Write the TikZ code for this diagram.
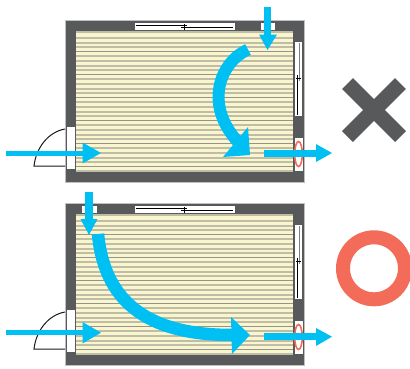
\documentclass[tikz,border=0pt]{standalone}
\definecolor{wallc}{HTML}{58595B}
\definecolor{floorc}{HTML}{F9F6CF}
\definecolor{stripec}{HTML}{BFBDA6}
\definecolor{stripedark}{HTML}{94948C}
\definecolor{flowc}{HTML}{00BFF3}
\definecolor{redc}{HTML}{F36C5A}
\tikzset{
  wall/.style={fill=wallc,draw=black!25,line width=.6pt},
  opening/.style={fill=white,draw=none},
  sash/.style={draw=black,line width=.9pt},
  sashgrey/.style={draw=black!50,line width=.9pt},
  doorline/.style={draw=black!90,line width=1pt},
  flowhead/.style={fill=flowc,draw=none},
  flowline/.style={draw=flowc,line cap=butt},
  seal/.style={draw=redc,line width=1.6pt,fill=none}
}
\newcommand{\roomplan}[2]{%
  \begin{scope}[yshift=-#1pt]
    \fill[wall] (65,20.5) rectangle (304,182);
    \fill[floorc] (76,31) rectangle (293,171);
    \fill[stripec] (76,31) rectangle (293,33.2);
    \foreach \k in {0,...,29} {
      \pgfmathsetmacro{\yy}{36.9+4.6*\k}
      \pgfmathtruncatemacro{\rr}{mod(\k,5)}
      \ifnum\rr=3
        \fill[stripedark] (76,\yy) rectangle (293,\yy+1.5);
      \else
        \fill[stripec] (76,\yy) rectangle (293,\yy+2);
      \fi
    }
    \fill[stripec] (76,169.5) rectangle (293,171);
    % top window
    \fill[opening] (134.5,22.5) rectangle (234.5,30);
    \draw[sash] (136,25.7) -- (187,25.7);
    \draw[sash] (181,27.2) -- (233,27.2);
    \draw[sash] (184,23.8) -- (184,29.6);
    % vent
    \fill[opening] (#2,22.5) rectangle ({#2+14.5},30);
    % right window
    \fill[opening] (295,42) rectangle (302,116);
    \draw[sashgrey] (299.3,43) -- (299.3,81);
    \draw[sash] (297.2,75) -- (297.2,115);
    \draw[sash] (295.8,78.5) -- (301,78.5);
    % exhaust opening
    \fill[opening] (295,137.5) rectangle (302.5,171);
    \draw[seal] (298.5,154) ellipse [x radius=3.8,y radius=12.5];
    % door
    \fill[opening] (67,127) rectangle (75,169);
    \draw[doorline] (65,129) .. controls (48,132) and (36,148) .. (34,166) -- (65,166);
  \end{scope}}
\begin{document}
\begin{tikzpicture}[x=1pt,y=-1pt]
\useasboundingbox (0,0) rectangle (410,368);
\roomplan{0}{260.5}
\roomplan{183}{82}
% upper room flows
\draw[flowline,line width=5pt] (6,153) -- (84,153);
\fill[flowhead] (82.5,142.5) -- (101,153) -- (82.5,163.5) -- cycle;
\draw[flowline,line width=7pt] (264,153) -- (317,153);
\fill[flowhead] (316,144) -- (332,153) -- (316,162) -- cycle;
\draw[flowline,line width=7.5pt] (267.5,7) -- (267.5,35);
\fill[flowhead] (259,34.5) -- (277,34.5) -- (267.5,50) -- cycle;
\draw[flowline,line width=12pt] (248,49.5) .. controls (220,62) and (203,105) .. (239,143);
\fill[flowhead] (223,157) -- (248,127) -- (250,155) -- cycle;
% lower room flows
\draw[flowline,line width=5pt] (6,332.7) -- (84,332.7);
\fill[flowhead] (82.5,322) -- (101,332.7) -- (82.5,343.5) -- cycle;
\draw[flowline,line width=7.5pt] (264,336.7) -- (317,336.7);
\fill[flowhead] (316,328) -- (332,336.7) -- (316,346) -- cycle;
\draw[flowline,line width=7.5pt] (89,192) -- (89,220);
\fill[flowhead] (80.5,219) -- (97.5,219) -- (89,235) -- cycle;
\draw[flowline,line width=12.5pt] (98,234) .. controls (104,297) and (142,335) .. (232,335);
\fill[flowhead] (231,317) -- (250,335) -- (232,354) -- cycle;
% verdict marks
\draw[draw=wallc,line width=15.5pt] (347.5,83.5) -- (400.5,136.5);
\draw[draw=wallc,line width=15.5pt] (400.5,83.5) -- (347.5,136.5);
\draw[draw=redc,line width=14pt] (374,268.3) circle [radius=31];
\end{tikzpicture}
\end{document}
